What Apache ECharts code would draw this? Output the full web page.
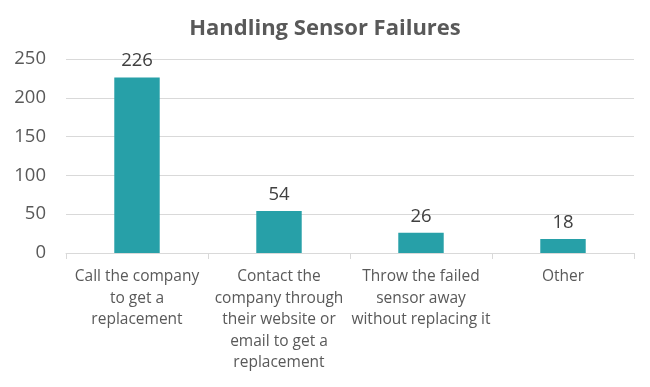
<!DOCTYPE html>
<html>
<head>
<meta charset="utf-8">
<script src="https://cdn.jsdelivr.net/npm/echarts@6/dist/echarts.min.js"></script>
<style>html,body{margin:0;padding:0;background:#fff}#c{width:650px;height:387px}</style>
</head>
<body>
<div id="c"></div>
<script>
const categories = [
  "Call the company\nto get a\nreplacement",
  "Contact the\ncompany through\ntheir website or\nemail to get a\nreplacement",
  "Throw the failed\nsensor away\nwithout replacing it",
  "Other"
];
const values = [226, 54, 26, 18];
const yTicks = { min: 0, max: 250, interval: 50 };
const titleText = "Handling Sensor Failures";

const FONT = "'Open Sans', Lato, sans-serif";
const chart = echarts.init(document.getElementById('c'), null, { renderer: 'canvas' });
chart.setOption({
  animation: false,
  backgroundColor: '#ffffff',
  title: {
    text: titleText, left: 'center', top: 13,
    textStyle: { fontFamily: FONT, fontSize: 22, fontWeight: 'bold', color: '#595959' }
  },
  grid: { left: 66, right: 16, top: 59, bottom: 134 },
  xAxis: {
    type: 'category', data: categories,
    axisLine: { show: true, lineStyle: { color: '#D9D9D9', width: 1 } },
    axisTick: { show: true, alignWithLabel: false, length: 6, lineStyle: { color: '#D9D9D9' } },
    axisLabel: { interval: 0, color: '#595959', fontFamily: FONT, fontSize: 15.5, lineHeight: 21.5, margin: 13 }
  },
  yAxis: {
    type: 'value', min: yTicks.min, max: yTicks.max, interval: yTicks.interval,
    axisLine: { show: false }, axisTick: { show: false },
    splitLine: { lineStyle: { color: '#D9D9D9', width: 1 } },
    axisLabel: { color: '#595959', fontFamily: FONT, fontSize: 18.5, margin: 20 }
  },
  series: [{
    type: 'bar', data: values, barWidth: '32%',
    itemStyle: { color: '#27A0A8' },
    label: { show: true, position: 'top', distance: 7, color: '#404040', fontFamily: FONT, fontSize: 18.5 }
  }]
});
</script>
</body>
</html>
